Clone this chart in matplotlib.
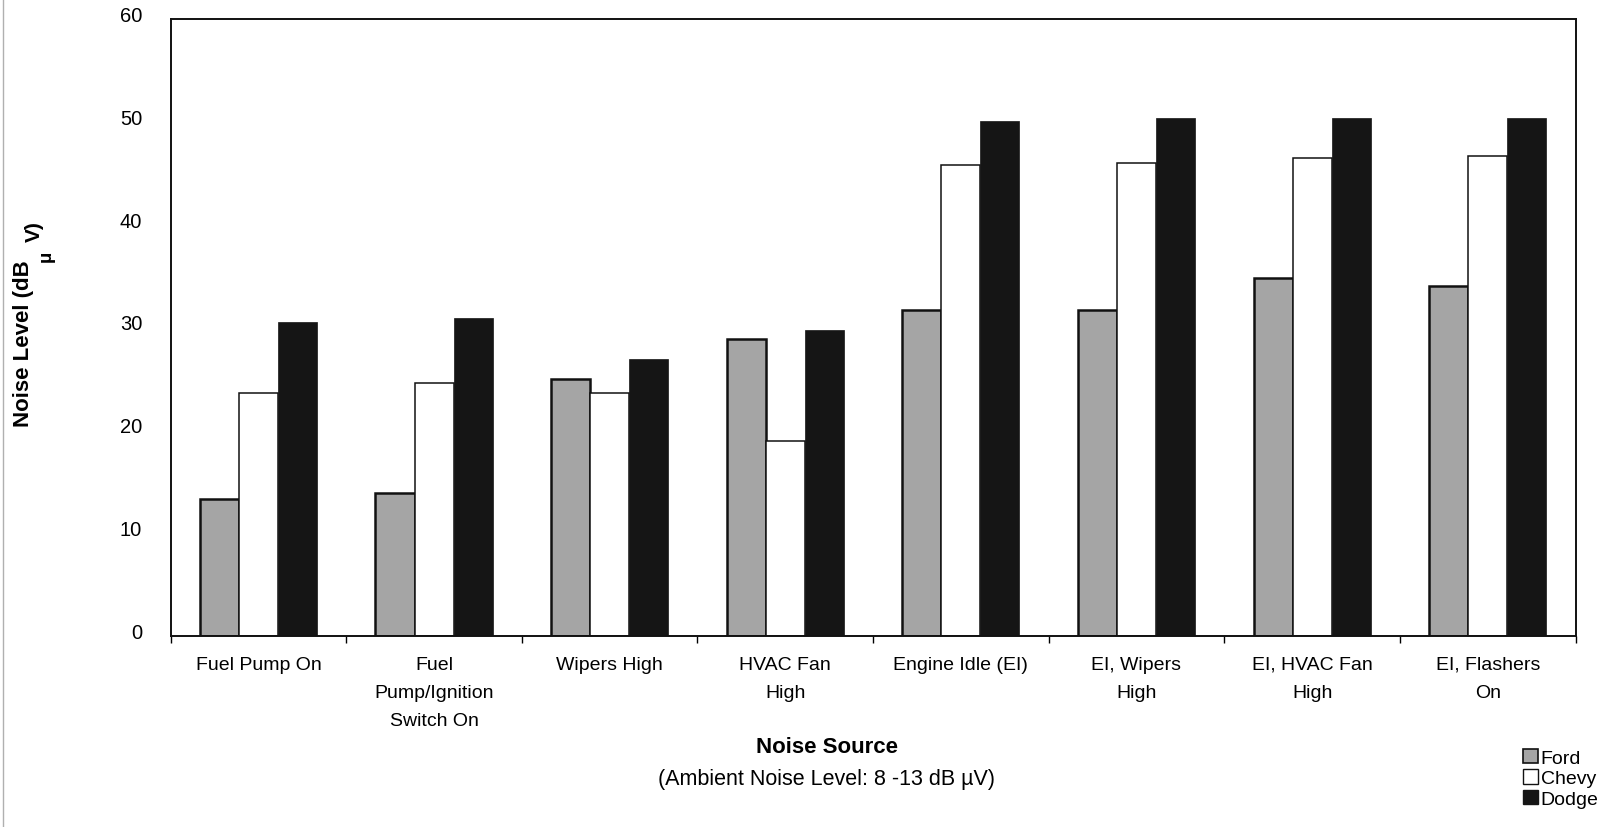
import matplotlib
matplotlib.use("Agg")
import matplotlib.pyplot as plt
import matplotlib.transforms as mtransforms
import numpy as np
from matplotlib.patches import Patch
from matplotlib.lines import Line2D

categories = ["Fuel Pump On", "Fuel\nPump/Ignition\nSwitch On", "Wipers High",
              "HVAC Fan\nHigh", "Engine Idle (EI)", "EI, Wipers\nHigh",
              "EI, HVAC Fan\nHigh", "EI, Flashers\nOn"]
ford = [13.3, 13.9, 24.9, 28.8, 31.7, 31.7, 34.8, 34.0]
chevy = [23.6, 24.6, 23.6, 18.9, 45.8, 45.9, 46.4, 46.6]
dodge = [30.5, 30.9, 26.9, 29.7, 50.0, 50.3, 50.3, 50.3]
series_names = ["Ford", "Chevy", "Dodge"]
yticks = [0, 10, 20, 30, 40, 50, 60]

plt.rcParams['font.family'] = ['Liberation Sans', 'DejaVu Sans']

fig = plt.figure(figsize=(16.21, 8.28), dpi=100)
L, R, T, B = 170.6, 1575.5, 19.5, 636.5
ax = fig.add_axes([L/1621, 1-B/828, (R-L)/1621, (B-T)/828])

x = np.arange(len(categories))
w = 1/4.5
ax.bar(x - w, ford, w, color='#a5a5a5', edgecolor='#111111', linewidth=1.8)
ax.bar(x, chevy, w, color='white', edgecolor='#111111', linewidth=1.1)
ax.bar(x + w, dodge, w, color='#151515', edgecolor='#151515', linewidth=0.5)

ax.set_xlim(-0.5, len(categories) - 0.5)
ax.set_ylim(0, 60)
ax.set_yticks(yticks)
ax.set_yticklabels([str(v) for v in yticks], fontsize=14.5)
ax.tick_params(axis='y', length=0, pad=20.5)
off = mtransforms.ScaledTranslation(0, 5/100, fig.dpi_scale_trans)
for lab in ax.get_yticklabels():
    lab.set_transform(lab.get_transform() + off)
ax.set_xticks(x)
ax.set_xticklabels(categories, fontsize=14, linespacing=1.85, va='top')
ax.tick_params(axis='x', length=0, pad=14.5)
ax.set_xticks(np.arange(len(categories) + 1) - 0.5, minor=True)
ax.tick_params(axis='x', which='minor', length=5, width=1, direction='out')
for s in ax.spines.values():
    s.set_linewidth(1.4)
    s.set_color('#111111')

ylab_family = ['Liberation Sans Narrow', 'Liberation Sans', 'DejaVu Sans']
fig.text(24/1621, 1-427/828, 'Noise Level (dB', rotation=90, fontsize=16,
         fontweight='bold', ha='center', va='bottom', family=ylab_family)
fig.text(46/1621, 1-256/828, '\u00b5', rotation=90, fontsize=14,
         fontweight='bold', ha='center', va='center', family=ylab_family)
fig.text(34/1621, 1-232/828, 'V)', rotation=90, fontsize=15,
         fontweight='bold', ha='center', va='center', family=ylab_family)

fig.text(827/1621, 1-748/828, 'Noise Source', fontsize=16, fontweight='bold',
         ha='center', va='center')
fig.text(827/1621, 1-780/828, '(Ambient Noise Level: 8 -13 dB \u00b5V)', fontsize=15.5,
         ha='center', va='center')

fig.add_artist(Line2D([3/1621, 3/1621], [0, 1], color='#b0b0b0', linewidth=1))

handles = [Patch(facecolor='#a5a5a5', edgecolor='#111111', linewidth=1.2),
           Patch(facecolor='white', edgecolor='#111111', linewidth=1.0),
           Patch(facecolor='#151515', edgecolor='#151515')]
fig.legend(handles, series_names, loc='upper left', bbox_to_anchor=(1523/1621, 1-750/828),
           frameon=False, fontsize=14, handlelength=0.75, handleheight=0.75,
           handletextpad=0.15, labelspacing=0.13, borderpad=0, borderaxespad=0)

fig.savefig('out.png', dpi=100)
